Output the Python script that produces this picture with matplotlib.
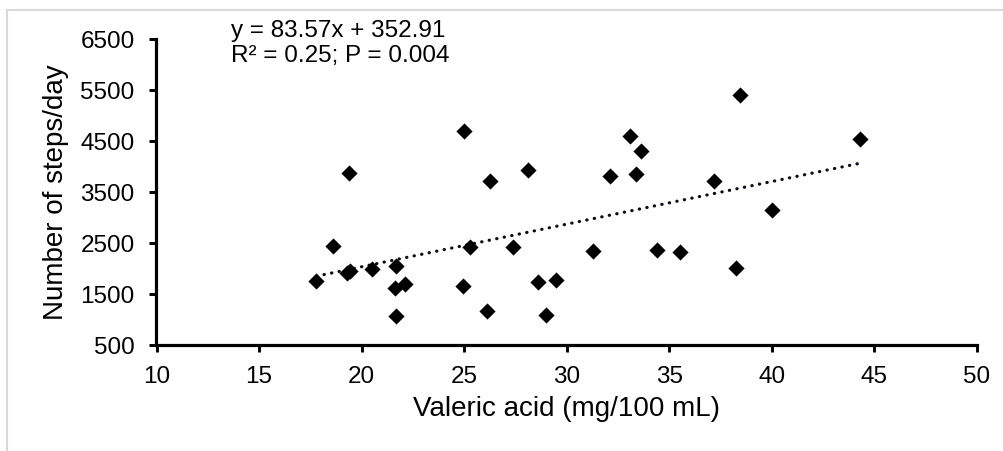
import numpy as np
import matplotlib
matplotlib.use("Agg")
import matplotlib.pyplot as plt
from matplotlib.lines import Line2D

plt.rcParams['font.family'] = ['Liberation Sans', 'DejaVu Sans']

# valeric acid (mg/100 mL) vs steps/day
valeric = [17.8, 18.6, 19.3, 19.45, 19.4, 20.5, 21.7, 21.65, 22.1, 21.7,
           24.95, 25.0, 25.3, 26.1, 26.25, 27.4, 28.1, 28.6, 29.0, 29.5,
           31.3, 32.1, 33.1, 33.4, 33.6, 34.4, 35.5, 37.2, 38.25, 38.45,
           40.0, 44.3]
steps = [1750, 2425, 1900, 1940, 3870, 1980, 2040, 1600, 1690, 1050,
         1650, 4690, 2415, 1165, 3700, 2420, 3930, 1730, 1075, 1770,
         2330, 3800, 4580, 3840, 4300, 2350, 2310, 3700, 2000, 5400,
         3130, 4520]

slope = 83.57
intercept = 352.91
eq_text = "y = 83.57x + 352.91"
stat_text = "R\u00b2 = 0.25; P = 0.004"

x_ticks = [10, 15, 20, 25, 30, 35, 40, 45, 50]
y_ticks = [500, 1500, 2500, 3500, 4500, 5500, 6500]

fig = plt.figure(figsize=(10.04, 4.52), dpi=100)
ax = fig.add_axes([156.5 / 1004, 1 - 345.5 / 452, (977 - 156.5) / 1004, (345.5 - 39.5) / 452])

ax.scatter(valeric, steps, marker='D', s=68, color='black', zorder=3, linewidths=0)

# trend line over the data range
xs = np.array([min(valeric), max(valeric)])
ax.plot(xs, slope * xs + intercept, color='#0d0d1a', lw=2.3,
        linestyle=(0, (0.1, 2.3)), dash_capstyle='round', zorder=2)

ax.set_xlim(10, 50)
ax.set_ylim(500, 6500)
ax.set_xticks(x_ticks)
ax.set_yticks(y_ticks)
ax.tick_params(axis='both', labelsize=17.5, width=2.1, length=4.8, direction='out', color='black')
ax.tick_params(axis='x', pad=10)
ax.tick_params(axis='y', pad=11)

for side in ['top', 'right']:
    ax.spines[side].set_visible(False)
for side in ['left', 'bottom']:
    ax.spines[side].set_linewidth(2.3)
    ax.spines[side].set_color('black')

ax.set_xlabel("Valeric acid (mg/100 mL)", fontsize=20, labelpad=6)
ax.set_ylabel("Number of steps/day", fontsize=20, labelpad=8)

fig.text(230.7 / 1004, 1 - 31 / 452, eq_text, fontsize=17.5, va='center', ha='left')
fig.text(230.7 / 1004, 1 - 56 / 452, stat_text, fontsize=17.5, va='center', ha='left')

# light grey chart-area frame (cut off at right and bottom)
fig.add_artist(Line2D([7.5 / 1004, 1.0], [1 - 10.5 / 452] * 2, transform=fig.transFigure,
                      color='#d9d9d9', lw=1.5))
fig.add_artist(Line2D([7.5 / 1004] * 2, [0.0, 1 - 10.5 / 452], transform=fig.transFigure,
                      color='#d9d9d9', lw=1.5))

fig.savefig("out.png", dpi=100)
